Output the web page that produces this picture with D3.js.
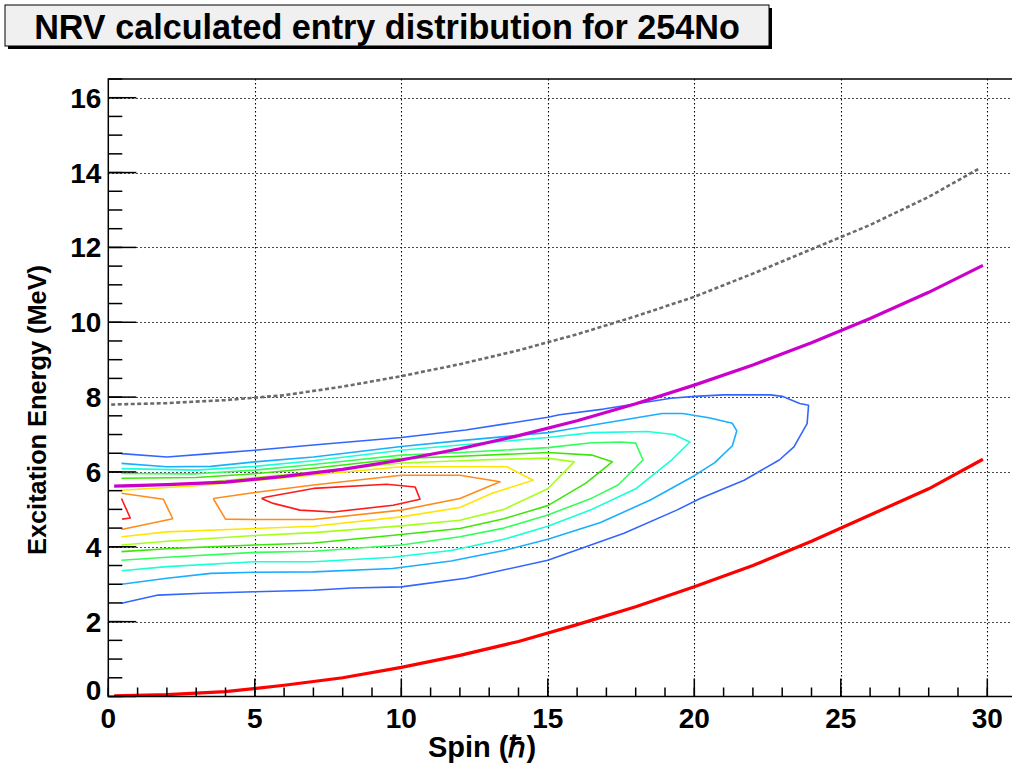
<!DOCTYPE html>
<html><head><meta charset="utf-8">
<script src="https://cdn.jsdelivr.net/npm/d3@7"></script>
<style>body{margin:0;background:#fff;overflow:hidden}</style>
</head><body>
<svg id="c" width="1012" height="763"></svg>
<script>
// ---------------- data ----------------
const titleText = "NRV calculated entry distribution for 254No";
const xLabel = "Spin (\u210F)";
const yLabel = "Excitation Energy (MeV)";
const xMajorTicks = [0, 5, 10, 15, 20, 25, 30];
const xMinorTicks = d3.range(0, 31, 1);
const yMajorTicks = [0, 2, 4, 6, 8, 10, 12, 14, 16];
const yMinorTicks = d3.range(0, 16.51, 0.5);

// gray dotted line (upper limit)
const grayCurve = [[0.1,7.8],[2,7.84],[4,7.92],[6,8.05],[8,8.28],[10,8.56],[12,8.88],[14,9.25],[16,9.68],[18,10.16],[20,10.68],[22,11.3],[24,11.95],[26,12.6],[28,13.35],[29.75,14.12]];
// magenta line
const magentaCurve = [[0.2,5.62],[2,5.66],[4,5.73],[6,5.88],[8,6.07],[10,6.32],[12,6.62],[14,6.97],[16,7.37],[18,7.82],[20,8.32],[22,8.86],[24,9.45],[26,10.1],[28,10.8],[29.85,11.52]];
// red yrast line
const redCurve = [[0.2,0.02],[2,0.05],[4,0.13],[6,0.3],[8,0.5],[10,0.78],[12,1.1],[14,1.47],[16,1.92],[18,2.4],[20,2.93],[22,3.5],[24,4.15],[26,4.85],[28,5.55],[29.85,6.34]];

// contour levels, outermost to innermost (each: list of polyline pieces of [spin, energy])
const contourBlue = [[[0.45,2.49],[1.7,2.71],[3.2,2.76],[5,2.8],[7,2.84],[8.3,2.9],[10,2.93],[12.2,3.16],[15,3.64],[17.6,4.36],[19.4,4.98],[20.2,5.29],[21.7,5.78],[22.9,6.32],[23.4,6.67],[23.85,7.29],[23.9,7.78],[23.6,7.83],[23,8.02],[22.6,8.06],[21,8.06],[20,8.02],[19.2,7.97],[16.9,7.68],[15.4,7.53],[15,7.46],[12.2,7.12],[10,6.92],[7,6.72],[5,6.58],[3.5,6.49],[2,6.4],[0.45,6.49]]];
const contourLightBlue = [[[0.45,3.0],[2,3.16],[3.5,3.29],[5,3.32],[7,3.33],[9.7,3.42],[11.7,3.62],[13.5,3.9],[15,4.2],[16.8,4.65],[18.5,5.25],[20,5.9],[20.7,6.25],[21.3,6.7],[21.45,7.1],[21.3,7.3],[20.5,7.45],[19.6,7.56],[18.9,7.56],[16.9,7.3],[15.4,7.1],[15,7.05],[12.2,6.85],[10,6.68],[7,6.4],[5,6.27],[3.5,6.15],[2,6.14],[0.45,6.23]]];
const contourTurquoise = [[[0.45,3.36],[2,3.47],[5,3.6],[7,3.6],[9.7,3.72],[11.7,3.9],[13.5,4.2],[15,4.55],[16.5,5.0],[18,5.55],[19.2,6.3],[19.85,6.8],[19.3,7.0],[18.4,7.08],[16.5,7.05],[15,6.92],[12,6.72],[10,6.58],[7,6.3],[5,6.15],[3,6.05],[0.45,6.09]]];
const contourGreen = [[[0.45,3.64],[2,3.72],[5,3.85],[7,3.88],[10,4.05],[12,4.27],[13.5,4.5],[15,4.85],[16.5,5.3],[17.4,5.65],[18.25,6.32],[18.0,6.77],[17.5,6.8],[16.5,6.78],[15,6.65],[12,6.52],[10,6.45],[7,6.2],[5,6.05],[3,5.95],[0.45,5.96]]];
const contourGreen2 = [[[0.45,3.87],[2,3.95],[5,4.05],[7,4.1],[10,4.33],[12,4.49],[13.5,4.75],[15,5.1],[16.3,5.7],[17.2,6.27],[16.5,6.45],[15,6.52],[12,6.42],[10,6.36],[7,6.1],[5,5.95],[3,5.85],[0.45,5.83]]];
const contourLime = [[[0.45,4.05],[2,4.15],[5,4.3],[7,4.38],[10,4.56],[12,4.71],[13.5,5.0],[15,5.55],[15.9,6.27],[15,6.37],[13,6.33],[12,6.3],[10,6.24],[7,6.0],[5,5.85],[3,5.7],[0.45,5.6]]];
const contourYellow = [[[0.45,4.27],[2,4.4],[5,4.49],[7,4.55],[10,4.8],[12,5.05],[13.1,5.43],[14.5,5.78],[13.6,6.14],[10,6.14],[7,5.92],[5,5.77],[3,5.63],[0.45,5.51]]];
const contourOrange = [[[0.45,5.43],[1.88,5.27],[2.2,4.75],[0.45,4.46]],[[3.58,5.29],[4.0,4.74],[5,4.73],[7,4.73],[10,4.98],[12,5.29],[13.37,5.74],[12,5.91],[10,5.91],[7,5.65],[5,5.45],[3.58,5.29]]];
const contourRed = [[[0.45,5.29],[0.75,4.77],[0.47,4.74]],[[5.23,5.29],[5.63,5.16],[6.54,4.98],[7.67,4.93],[9.72,5.11],[10.64,5.27],[10.47,5.6],[9.5,5.67],[7,5.56],[5.4,5.33],[5.23,5.29]]];

// ---------------- styles ----------------
const contourSet = [
  {pieces: contourBlue, color: "#3366ff"},
  {pieces: contourLightBlue, color: "#1aaeff"},
  {pieces: contourTurquoise, color: "#1affd5"},
  {pieces: contourGreen, color: "#33ff5a"},
  {pieces: contourGreen2, color: "#3ee60a"},
  {pieces: contourLime, color: "#a6ff1a"},
  {pieces: contourYellow, color: "#ffe600"},
  {pieces: contourOrange, color: "#ff8c1a"},
  {pieces: contourRed, color: "#ff1a1a"}
];

const svg = d3.select("#c");
const fontB = "'Liberation Sans', Arial, Helvetica, sans-serif";

const x = d3.scaleLinear().domain([0, 31]).range([108.3, 1016.6]);
const y = d3.scaleLinear().domain([0, 16.5]).range([696.5, 79]);

function fitText(sel, base, target) {
  sel.attr("font-size", base);
  const w = sel.node().getComputedTextLength();
  sel.attr("font-size", base * target / w);
}

// title box
const tb = {x: 5, y: 5, w: 764, h: 41};
svg.append("rect").attr("x", tb.x + 3).attr("y", tb.y + 3).attr("width", tb.w).attr("height", tb.h).attr("fill", "#000");
svg.append("rect").attr("x", tb.x).attr("y", tb.y).attr("width", tb.w).attr("height", tb.h).attr("fill", "#f0f0f0").attr("stroke", "#000").attr("stroke-width", 1);
const tt = svg.append("text").attr("x", tb.x + tb.w / 2).attr("y", tb.y + tb.h / 2 + 1)
  .attr("text-anchor", "middle").attr("dominant-baseline", "central")
  .attr("font-family", fontB).attr("font-weight", "bold").text(titleText);
fitText(tt, 28, 706);

// clip
svg.append("clipPath").attr("id", "clip").append("rect")
  .attr("x", x(0)).attr("y", y(16.5)).attr("width", x(31) - x(0)).attr("height", y(0) - y(16.5));

// grid
const grid = svg.append("g").attr("stroke", "#000").attr("stroke-width", 1.1).attr("stroke-dasharray", "1.4 2.6");
grid.selectAll(".gx").data(xMajorTicks.filter(d => d > 0)).join("line")
  .attr("x1", d => Math.round(x(d)) + 0.5).attr("x2", d => Math.round(x(d)) + 0.5)
  .attr("y1", y(16.5)).attr("y2", y(0));
grid.selectAll(".gy").data(yMajorTicks.filter(d => d > 0)).join("line")
  .attr("y1", d => Math.round(y(d)) + 0.5).attr("y2", d => Math.round(y(d)) + 0.5)
  .attr("x1", x(0)).attr("x2", x(31));

const plot = svg.append("g").attr("clip-path", "url(#clip)");
const line = d3.line().x(d => x(d[0])).y(d => y(d[1]));

// contours
contourSet.forEach(lv => {
  plot.append("g").selectAll("path").data(lv.pieces).join("path")
    .attr("d", line).attr("fill", "none").attr("stroke", lv.color)
    .attr("stroke-width", 1.6).attr("stroke-linejoin", "round");
});

// curves
plot.append("path").datum(grayCurve).attr("d", line).attr("fill", "none")
  .attr("stroke", "#6b6b6b").attr("stroke-width", 2.6).attr("stroke-dasharray", "4 2.5");
plot.append("path").datum(magentaCurve).attr("d", line).attr("fill", "none")
  .attr("stroke", "#cc00cc").attr("stroke-width", 3.2);
plot.append("path").datum(redCurve).attr("d", line).attr("fill", "none")
  .attr("stroke", "#ff0000").attr("stroke-width", 3.2);

// frame
svg.append("rect").attr("x", x(0)).attr("y", y(16.5)).attr("width", x(31) - x(0)).attr("height", y(0) - y(16.5))
  .attr("fill", "none").attr("stroke", "#000").attr("stroke-width", 1.5);

// ticks
const ax = svg.append("g").attr("stroke", "#000").attr("stroke-width", 1.5);
ax.selectAll(".xmi").data(xMinorTicks).join("line")
  .attr("x1", d => x(d)).attr("x2", d => x(d)).attr("y1", y(0)).attr("y2", y(0) - 9);
ax.selectAll(".xma").data(xMajorTicks).join("line")
  .attr("x1", d => x(d)).attr("x2", d => x(d)).attr("y1", y(0)).attr("y2", y(0) - 18);
ax.selectAll(".ymi").data(yMinorTicks).join("line")
  .attr("y1", d => y(d)).attr("y2", d => y(d)).attr("x1", x(0)).attr("x2", x(0) + 14);
ax.selectAll(".yma").data(yMajorTicks).join("line")
  .attr("y1", d => y(d)).attr("y2", d => y(d)).attr("x1", x(0)).attr("x2", x(0) + 28);

// tick labels
const lab = svg.append("g").attr("font-family", fontB).attr("font-weight", "bold").attr("font-size", 28).attr("fill", "#000");
lab.selectAll(".xl").data(xMajorTicks).join("text")
  .attr("x", d => x(d)).attr("y", y(0) + 31).attr("text-anchor", "middle").text(d => d);
lab.selectAll(".yl").data(yMajorTicks).join("text")
  .attr("x", x(0) - 7).attr("y", d => y(d) + (d === 0 ? 3 : 10)).attr("text-anchor", "end").text(d => d);

// axis titles
lab.append("text").attr("x", 482).attr("y", 757).attr("text-anchor", "middle").attr("font-size", 29).text(xLabel);
const yt = lab.append("text").attr("transform", "translate(46,410) rotate(-90)").attr("text-anchor", "middle").text(yLabel);
fitText(yt, 26, 290);
</script>
</body></html>
